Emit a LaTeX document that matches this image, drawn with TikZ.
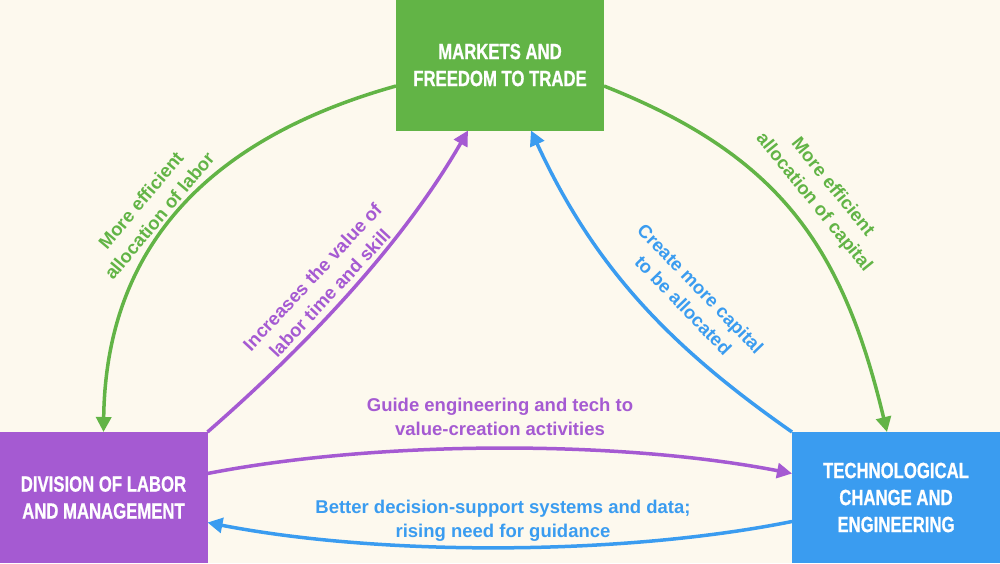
\documentclass[tikz,border=0pt]{standalone}
\usepackage{fontspec}
\setmainfont{Liberation Sans}
\newfontfamily\condfont[FakeStretch=0.76,FakeBold=0.8]{Liberation Sans}
\usetikzlibrary{arrows.meta}
\definecolor{bg}{HTML}{FDF9EE}
\definecolor{cgreen}{HTML}{62B446}
\definecolor{cpurple}{HTML}{A55AD2}
\definecolor{cblue}{HTML}{3A9CF0}
\pgfdeclarelayer{bglayer}
\pgfdeclarelayer{linelayer}
\pgfsetlayers{bglayer,linelayer,main}
\begin{document}
\begin{tikzpicture}[x=1pt,y=-1pt,
  box/.style={rectangle, inner sep=0pt, outer sep=0pt, text=white, minimum width=208pt, minimum height=131pt,
    font=\condfont\bfseries\fontsize{22}{27}\selectfont, align=center},
  conn/.style={line width=3.5pt, -{Triangle[length=15pt,width=15pt]}},
  lbl/.style={font=\bfseries\fontsize{18.5}{24}\selectfont, align=center, inner sep=0pt}]
\begin{pgfonlayer}{bglayer}
\fill[bg] (0,0) rectangle (1000,563);
\end{pgfonlayer}
\useasboundingbox (0,0) rectangle (1000,563);

\node[box, fill=cgreen] (mk) at (500,65) {MARKETS AND\\FREEDOM TO TRADE};
\node[box, fill=cpurple] (lab) at (103.5,497.5) {DIVISION OF LABOR\\AND MANAGEMENT};
\node[box, fill=cblue] (tech) at (896,497.5) {TECHNOLOGICAL\\CHANGE AND\\ENGINEERING};

\node[lbl, text=cgreen, rotate=50] (l1) at (150,208) {More efficient\\allocation of labor};
\node[lbl, text=cpurple, rotate=47] (l2) at (321,285) {Increases the value of\\labor time and skill};
\node[lbl, text=cblue, rotate=-46] (l3) at (692,297) {Create more capital\\to be allocated};
\node[lbl, text=cgreen, rotate=-51] (l4) at (823,195) {More efficient\\allocation of capital};
\node[lbl, text=cpurple] (l5) at (500,417) {Guide engineering and tech to\\value-creation activities};
\node[lbl, text=cblue] (l6) at (503,521) {Better decision-support systems and data;\\rising need for guidance};

\begin{pgfonlayer}{linelayer}
\draw[conn, cgreen] ([yshift=-21pt]mk.west) .. controls (214,137) and (106,242) .. (lab.north);
\draw[conn, cgreen] ([yshift=-21pt]mk.east) .. controls (781,156) and (843,248) .. ([xshift=-9pt]tech.north);
\draw[conn, cpurple] (lab.north east) .. controls (305,347) and (402,245) .. ([xshift=-32pt]mk.south);
\draw[conn, cblue] (tech.north west) .. controls (669,346) and (594,267) .. ([xshift=31pt]mk.south);
\draw[conn, cpurple] ([yshift=24pt]lab.east) .. controls (380,440) and (620,440) .. ([yshift=24pt]tech.west);
\draw[conn, cblue] ([yshift=-24pt]tech.west) .. controls (620,556) and (380,556) .. ([yshift=-25pt]lab.east);
\end{pgfonlayer}
\end{tikzpicture}
\end{document}
